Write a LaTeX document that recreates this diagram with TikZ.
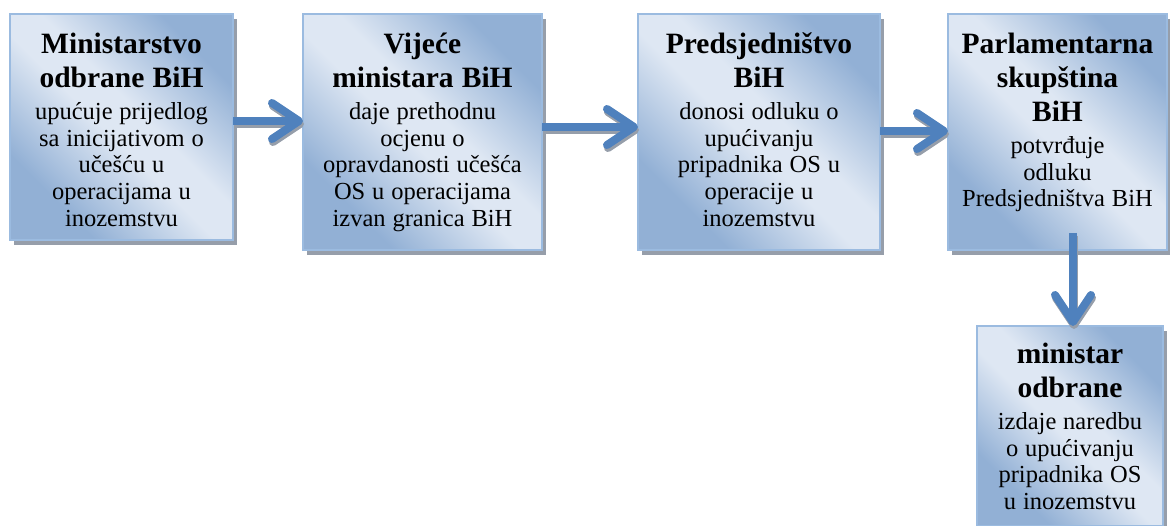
\documentclass[tikz,border=0pt]{standalone}
\usepackage{fontspec}
\setmainfont{Liberation Serif}
\usetikzlibrary{arrows.meta,shadows}
\definecolor{bdark}{RGB}{146,176,213}
\definecolor{blight}{RGB}{222,231,243}
\definecolor{bborder}{RGB}{155,187,224}
\definecolor{arrblue}{RGB}{79,129,189}
\definecolor{shgray}{RGB}{150,158,170}
\pgfdeclarehorizontalshading{boxshade}{100bp}{color(0bp)=(bdark); color(28bp)=(bdark); color(47bp)=(blight); color(55bp)=(blight); color(74bp)=(bdark); color(100bp)=(bdark)}
\newcommand\titlefont{\bfseries\fontsize{29.5}{34}\selectfont\spaceskip=0.28em\relax}
\newcommand\bodyfont{\fontsize{24.5}{26.6}\selectfont\spaceskip=0.28em\relax}
\newcommand\boxtext[2]{{\titlefont\rule{0pt}{22pt}#1\par}\vspace{6pt}{\bodyfont #2\par}}
\begin{document}
\begin{tikzpicture}[x=1pt,y=-1pt,
  box/.style={rectangle, inner sep=0pt, outer sep=0pt, anchor=north west,
    shading=boxshade, shading angle=45, draw=bborder, line width=1.5pt,
    drop shadow={shadow xshift=4pt, shadow yshift=-5pt, fill=shgray, opacity=1}},
  txt/.style={anchor=north, inner sep=0pt, align=center, text=black},
  conn/.style={line width=8pt, draw=arrblue,
    -{Straight Barb[length=27pt,width=36pt,line width=8pt,round]}},
  connshadow/.style={conn, draw=shgray, transform canvas={xshift=1pt,yshift=-3pt}}]
\useasboundingbox (0,0) rectangle (1170,526);
% boxes
\node[box, minimum width=223pt, minimum height=226pt] (b1) at (10,14) {};
\node[box, minimum width=239pt, minimum height=236pt] (b2) at (303,14) {};
\node[box, minimum width=242pt, minimum height=236pt] (b3) at (638,14) {};
\node[box, minimum width=219pt, minimum height=236pt] (b4) at (948,14) {};
\node[box, minimum width=186pt, minimum height=200pt] (b5) at (977,326) {};
% texts
\node[txt, text width=217pt] (t1) at ([yshift=-17pt]b1.north)
  {\boxtext{Ministarstvo\\odbrane BiH}{upućuje prijedlog\\sa inicijativom o\\učešću u\\operacijama u\\inozemstvu}};
\node[txt, text width=233pt] (t2) at ([yshift=-17pt]b2.north)
  {\boxtext{Vijeće\\ministara BiH}{daje prethodnu\\ocjenu o\\opravdanosti učešća\\OS u operacijama\\izvan granica BiH}};
\node[txt, text width=236pt] (t3) at ([yshift=-17pt]b3.north)
  {\boxtext{Predsjedništvo\\BiH}{donosi odluku o\\upućivanju\\pripadnika OS u\\operacije u\\inozemstvu}};
\node[txt, text width=215pt] (t4) at ([yshift=-17pt]b4.north)
  {\boxtext{Parlamentarna\\skupština\\BiH}{potvrđuje\\odluku\\Predsjedništva BiH}};
\node[txt, text width=182pt] (t5) at ([yshift=-15pt]b5.north)
  {\boxtext{ministar\\odbrane}{izdaje naredbu\\o upućivanju\\pripadnika OS\\u inozemstvu}};
% connectors
\draw[connshadow] ([yshift=6pt]b1.east) -- ([yshift=11pt]b2.west);
\draw[conn] ([yshift=6pt]b1.east) -- ([yshift=11pt]b2.west);
\draw[connshadow] ([yshift=5pt]b2.east) -- ([yshift=5pt]b3.west);
\draw[conn] ([yshift=5pt]b2.east) -- ([yshift=5pt]b3.west);
\draw[connshadow] ([yshift=1pt]b3.east) -- ([yshift=1pt]b4.west);
\draw[conn] ([yshift=1pt]b3.east) -- ([yshift=1pt]b4.west);
\draw[connshadow] ([xshift=15.5pt,yshift=17pt]b4.south) -- ([xshift=3pt]b5.north);
\draw[conn] ([xshift=15.5pt,yshift=17pt]b4.south) -- ([xshift=3pt]b5.north);
\end{tikzpicture}
\end{document}
